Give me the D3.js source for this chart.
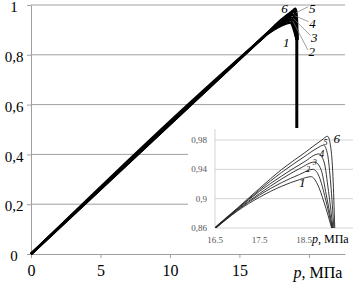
<!DOCTYPE html>
<html>
<head>
<meta charset="utf-8">
<script src="https://cdn.jsdelivr.net/npm/d3@7"></script>
<style>
  body { margin: 0; background: #fff; }
  svg { display: block; font-family: "Liberation Serif", "DejaVu Serif", serif; }
</style>
</head>
<body>
<div id="container"></div>
<script>
/* DATA */
const curveNames = ["1", "2", "3", "4", "5", "6"]
const curve1 = [[0, 0], [16.5, 0.859], [17, 0.883], [17.5, 0.902], [18, 0.917], [18.4, 0.926], [18.66, 0.930], [18.8, 0.92], [18.95, 0.895], [19.12, 0.86]]
const curve2 = [[0, 0], [16.5, 0.859], [17, 0.884], [17.5, 0.905], [18, 0.922], [18.4, 0.933], [18.7, 0.940], [18.84, 0.93], [18.98, 0.90], [19.13, 0.86]]
const curve3 = [[0, 0], [16.5, 0.86], [17, 0.885], [17.5, 0.907], [18, 0.927], [18.4, 0.941], [18.74, 0.950], [18.88, 0.94], [19.0, 0.905], [19.14, 0.86]]
const curve4 = [[0, 0], [16.5, 0.86], [17, 0.886], [17.5, 0.910], [18, 0.931], [18.5, 0.950], [18.83, 0.961], [18.95, 0.95], [19.05, 0.91], [19.15, 0.86]]
const curve5 = [[0, 0], [16.5, 0.86], [17, 0.886], [17.5, 0.912], [18, 0.936], [18.5, 0.957], [18.8, 0.969], [18.94, 0.973], [19.03, 0.96], [19.1, 0.92], [19.17, 0.86]]
const curve6 = [[0, 0], [16.5, 0.861], [17, 0.887], [17.5, 0.914], [18, 0.940], [18.5, 0.962], [18.9, 0.980], [19.03, 0.985], [19.1, 0.97], [19.15, 0.93], [19.19, 0.86]]
const curves = [curve1, curve2, curve3, curve4, curve5, curve6]

const mainXTicks = [0, 5, 10, 15, 20]
const mainXLabels = ["0", "5", "10", "15", ""]
const mainYTicks = [0, 0.2, 0.4, 0.6, 0.8, 1]
const mainYLabels = ["0", "0,2", "0,4", "0,6", "0,8", "1"]
const insetXTicks = [16.5, 17.5, 18.5]
const insetXLabels = ["16.5", "17.5", "18.5"]
const insetYTicks = [0.86, 0.9, 0.94, 0.98]
const insetYLabels = ["0,86", "0,9", "0,94", "0,98"]
const axisTitle = ", МПа"

// pointer from the peaks down to the inset (p, value)
const pointerP = 19.13
const pointerTop = 0.9
const pointerBottom = 0.488

/* CONSTANTS */
const width = 359, height = 285
const grid = "#a0a0a0"

const svg = d3.select("#container")
  .append("svg")
  .attr("width", width)
  .attr("height", height)

/* MAIN CHART */
const xScale = d3.scaleLinear().domain([0, 22.6]).range([31, 345])
const yScale = d3.scaleLinear().domain([0, 1]).range([254, 5])

svg.append("g")
  .selectAll("line")
  .data(mainYTicks.slice(1))
  .join("line")
  .attr("x1", xScale(0)).attr("x2", xScale(22.6))
  .attr("y1", d => yScale(d)).attr("y2", d => yScale(d))
  .attr("stroke", grid).attr("stroke-width", 1)

const xAxis = d3.axisBottom(xScale).tickValues(mainXTicks)
  .tickFormat((d, i) => mainXLabels[i]).tickSize(4).tickSizeOuter(0)
const xg = svg.append("g").attr("transform", `translate(0, ${yScale(0)})`).call(xAxis)
xg.select(".domain").attr("stroke", grid)
xg.selectAll(".tick line").attr("stroke", grid)
xg.selectAll("text").attr("font-family", "Liberation Serif").attr("font-size", 16)
  .attr("fill", "#000").attr("dy", "0.95em")

const yAxis = d3.axisLeft(yScale).tickValues(mainYTicks)
  .tickFormat((d, i) => mainYLabels[i]).tickSize(4).tickSizeOuter(0)
const yg = svg.append("g").attr("transform", `translate(${xScale(0)}, 0)`).call(yAxis)
yg.select(".domain").attr("stroke", grid)
yg.selectAll(".tick line").attr("stroke", grid)
yg.selectAll("text").attr("font-family", "Liberation Serif").attr("font-size", 15)
  .attr("fill", "#000").attr("text-anchor", "middle").attr("x", -17).attr("dy", "0.45em")

const pLabel = svg.append("text")
  .attr("x", 318).attr("y", 278)
  .attr("text-anchor", "middle")
  .attr("font-size", 16)
pLabel.append("tspan").attr("font-style", "italic").text("p")
pLabel.append("tspan").text(axisTitle)

const lineMain = d3.line()
  .x(d => xScale(d[0]))
  .y(d => yScale(d[1]))
  .curve(d3.curveMonotoneX)

svg.append("g")
  .selectAll("path")
  .data(curves)
  .join("path")
  .attr("d", lineMain)
  .attr("fill", "none")
  .attr("stroke", "#000")
  .attr("stroke-width", 2.4)
  .attr("stroke-linejoin", "round")

svg.append("line")
  .attr("x1", xScale(pointerP)).attr("x2", xScale(pointerP))
  .attr("y1", yScale(pointerTop)).attr("y2", yScale(pointerBottom))
  .attr("stroke", "#000").attr("stroke-width", 3)

// curve labels on the main chart, placed relative to each peak
const peak = c => c.reduce((a, b) => (b[1] > a[1] ? b : a))
const mainLabelOffsets = [[-4, 20], [21, 32], [23, 20], [20, 9], [18, -3], [-11, 0]]
const mainLeader = [false, true, true, true, true, false]

curves.forEach((c, i) => {
  const [pp, pv] = peak(c)
  const px = xScale(pp), py = yScale(pv)
  const [dx, dy] = mainLabelOffsets[i]
  if (mainLeader[i]) {
    svg.append("line")
      .attr("x1", px + 2).attr("y1", py + 1)
      .attr("x2", px + dx - 4).attr("y2", py + dy - 2)
      .attr("stroke", "#777").attr("stroke-width", 0.7)
  }
  svg.append("text")
    .attr("x", px + dx).attr("y", py + dy)
    .attr("font-size", 13).attr("font-style", "italic")
    .attr("text-anchor", "middle")
    .attr("dy", "0.35em")
    .text(curveNames[i])
})

/* INSET */
const insetX = d3.scaleLinear().domain([16.5, 19.6]).range([215, 353])
const insetY = d3.scaleLinear().domain([0.86, 0.98]).range([228, 140])

svg.append("rect")
  .attr("x", 188).attr("y", 128)
  .attr("width", 171).attr("height", 120)
  .attr("fill", "#fff")

svg.append("clipPath").attr("id", "insetClip")
  .append("rect")
  .attr("x", insetX(16.5)).attr("y", 128)
  .attr("width", insetX(19.6) - insetX(16.5)).attr("height", insetY(0.86) - 128)

svg.append("g")
  .selectAll("line")
  .data(insetYTicks)
  .join("line")
  .attr("x1", insetX(16.5)).attr("x2", insetX(19.6))
  .attr("y1", d => insetY(d)).attr("y2", d => insetY(d))
  .attr("stroke", "#c8c8c8").attr("stroke-width", 0.8)

svg.append("line")
  .attr("x1", insetX(16.5)).attr("x2", insetX(16.5))
  .attr("y1", 129).attr("y2", insetY(0.86))
  .attr("stroke", "#c8c8c8").attr("stroke-width", 0.8)

svg.append("g")
  .selectAll("text")
  .data(insetYTicks)
  .join("text")
  .attr("x", insetX(16.5) - 8).attr("y", d => insetY(d))
  .attr("dy", "0.35em")
  .attr("text-anchor", "end")
  .attr("font-size", 9).attr("fill", "#555")
  .text((d, i) => insetYLabels[i])

svg.append("g")
  .selectAll("text")
  .data(insetXTicks)
  .join("text")
  .attr("x", d => insetX(d)).attr("y", 243)
  .attr("text-anchor", "middle")
  .attr("font-size", 9).attr("fill", "#555")
  .text((d, i) => insetXLabels[i])

const pInset = svg.append("text")
  .attr("x", 312).attr("y", 243)
  .attr("font-size", 12)
pInset.append("tspan").attr("font-style", "italic").text("p")
pInset.append("tspan").text(axisTitle)

const lineInset = d3.line()
  .x(d => insetX(d[0]))
  .y(d => insetY(d[1]))
  .curve(d3.curveMonotoneX)

svg.append("g")
  .attr("clip-path", "url(#insetClip)")
  .selectAll("path")
  .data(curves.map(c => c.filter(d => d[0] >= 16.5)))
  .join("path")
  .attr("d", lineInset)
  .attr("fill", "none")
  .attr("stroke", "#222")
  .attr("stroke-width", 0.9)

const insetLabelOffsets = [[-9, 6], [-5, 0], [0, 0], [3, 0], [2, -3], [9, 2]]
const insetLabelSizes = [13, 8, 8, 10, 8, 13]
curves.forEach((c, i) => {
  const [pp, pv] = peak(c)
  const [dx, dy] = insetLabelOffsets[i]
  svg.append("text")
    .attr("x", insetX(pp) + dx).attr("y", insetY(pv) + dy)
    .attr("dy", "0.35em")
    .attr("text-anchor", "middle")
    .attr("font-size", insetLabelSizes[i]).attr("font-style", "italic")
    .text(curveNames[i])
})
</script>
</body>
</html>
